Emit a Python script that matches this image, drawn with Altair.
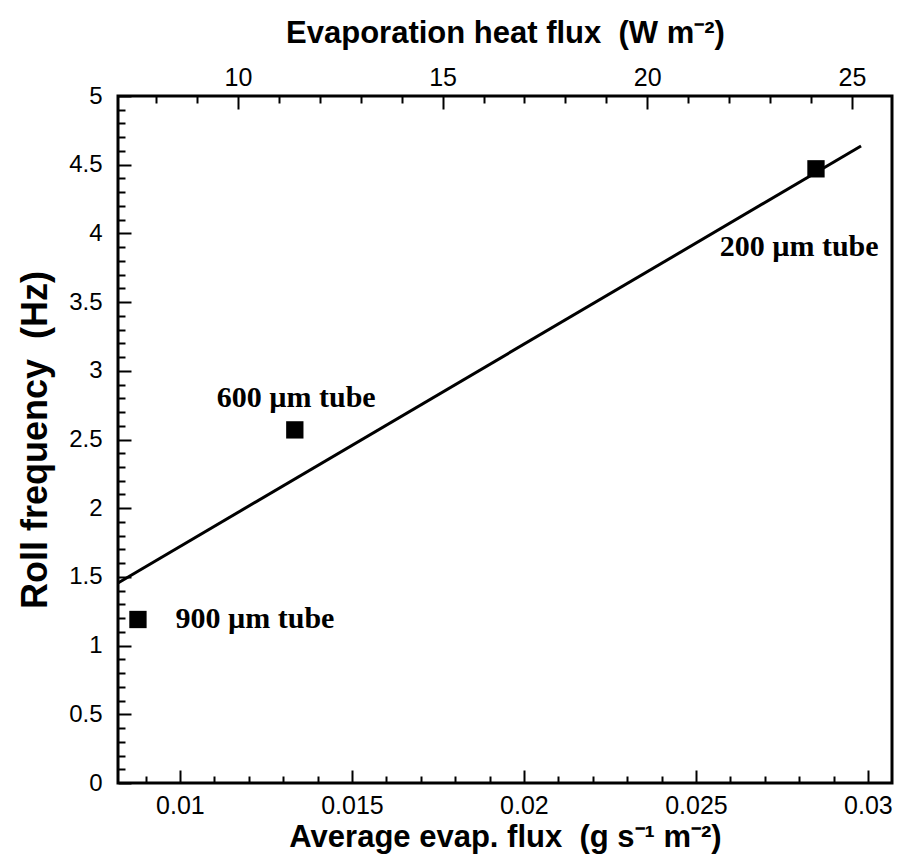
import altair as alt
import pandas as pd

# ---------------- data ----------------
tube_labels = ["900 µm tube", "600 µm tube", "200 µm tube"]
evap_flux = [0.00878, 0.01334, 0.02849]      # g s^-1 m^-2
roll_freq = [1.19, 2.57, 4.47]               # Hz

fit_x = [0.0082, 0.0298]
fit_y = [1.456, 4.636]

label_x = [0.01218, 0.01338, 0.0280]
label_y = [1.19, 2.80, 3.90]

x_major = [0.01, 0.015, 0.02, 0.025, 0.03]
x_minor = [0.009, 0.011, 0.012, 0.013, 0.014, 0.016, 0.017, 0.018, 0.019,
           0.021, 0.022, 0.023, 0.024, 0.026, 0.027, 0.028, 0.029]
y_major = [0, 0.5, 1, 1.5, 2, 2.5, 3, 3.5, 4, 4.5, 5]
y_minor = [round(i * 0.1, 1) for i in range(1, 50) if i % 5 != 0]
top_major = [10, 15, 20, 25]
top_minor = [8, 9, 11, 12, 13, 14, 16, 17, 18, 19, 21, 22, 23, 24]

X_DOMAIN = [0.0082, 0.0307]
TOP_DOMAIN = [7.07, 25.98]
Y_DOMAIN = [0, 5]

W, H = 774, 687
MAJ, MIN = 13, 7   # tick lengths in px (minor ones made by a dash)
SANS = "Liberation Sans, Arial, Helvetica, sans-serif"
SERIF = "Liberation Serif, Times New Roman, serif"

points = pd.DataFrame({"x": evap_flux, "y": roll_freq, "tube": tube_labels})
fit = pd.DataFrame({"x": fit_x, "y": fit_y})
labels = pd.DataFrame({"x": label_x, "y": label_y, "tube": tube_labels})
top_df = pd.DataFrame({"t": top_major})

xs = alt.Scale(domain=X_DOMAIN, nice=False, zero=False)
ys = alt.Scale(domain=Y_DOMAIN, nice=False, zero=False)
ts = alt.Scale(domain=TOP_DOMAIN, nice=False, zero=False)

X_TITLE = "Average evap. flux \u00a0(g s\u207b\u00b9 m\u207b\u00b2)"
Y_TITLE = "Roll frequency \u00a0(Hz)"
T_TITLE = "Evaporation heat flux \u00a0(W m\u207b\u00b2)"

X_IS_MAJOR = "abs(datum.value*200 - round(datum.value*200)) < 1e-6"
Y_IS_MAJOR = "abs(datum.value*2 - round(datum.value*2)) < 1e-6"
T_IS_MAJOR = "abs(datum.value/5 - round(datum.value/5)) < 1e-6"

def tick_style(is_major):
    return dict(
        ticks=True, tickColor="black", tickWidth=2, tickCap="butt",
        tickSize=alt.ExprRef(expr=str(-MAJ)),
        tickDash={"condition": {"test": "!(" + is_major + ")",
                                "value": [MIN, 40]},
                  "value": []},
        labelExpr=is_major + " ? datum.label : ''",
        labelOverlap=False, labelFlush=False, zindex=1,
    )

x_axis = alt.Axis(
    values=sorted(x_major + x_minor), format="~g", domain=False, grid=False,
    labelFont=SANS, labelFontSize=25, labelColor="black", labelPadding=10 + MAJ,
    titleFont=SANS, titleFontSize=31, titleFontWeight="bold", titleColor="black",
    titlePadding=4, **tick_style(X_IS_MAJOR),
)
y_axis = alt.Axis(
    values=sorted(y_major + y_minor), format="~g", domain=False, grid=False,
    labelFont=SANS, labelFontSize=24, labelColor="black", labelPadding=16 + MAJ,
    titleFont=SANS, titleFontSize=36, titleFontWeight="bold", titleColor="black",
    titlePadding=14, **tick_style(Y_IS_MAJOR),
)
top_axis = alt.Axis(
    orient="top", values=sorted(top_major + top_minor), format="~g",
    domain=False, grid=False,
    labelFont=SANS, labelFontSize=25, labelColor="black", labelPadding=6 + MAJ,
    titleFont=SANS, titleFontSize=31, titleFontWeight="bold", titleColor="black",
    titlePadding=16, **tick_style(T_IS_MAJOR),
)

def X(field, axis=False):
    if axis:
        return alt.X(field, type="quantitative", scale=xs, axis=x_axis, title=X_TITLE)
    return alt.X(field, type="quantitative", scale=xs, axis=None)

def Y(field):
    return alt.Y(field, type="quantitative", scale=ys, axis=y_axis, title=Y_TITLE)

pts = alt.Chart(points).mark_point(shape="square", filled=True, color="black",
                                   size=300, opacity=1).encode(x=X("x", True), y=Y("y"))

line = alt.Chart(fit).mark_line(color="black", strokeWidth=3).encode(x=X("x"), y=Y("y"))

txt = alt.Chart(labels).mark_text(font=SERIF, fontSize=30, fontWeight="bold",
                                  color="black", align="center",
                                  baseline="middle").encode(
    x=X("x"), y=Y("y"), text="tube:N")

top = alt.Chart(top_df).mark_point(opacity=0).encode(
    x=alt.X("t", type="quantitative", scale=ts, axis=top_axis, title=T_TITLE))

chart = alt.layer(line, pts, txt, top).resolve_scale(x="independent").properties(
    width=W, height=H,
    autosize=alt.AutoSizeParams(type="none"),
    padding={"left": 118, "top": 96, "right": 6, "bottom": 84},
    background="white",
).configure_view(stroke="black", strokeWidth=3)

chart.save("out.html", embed_options={"renderer": "svg", "actions": False})
